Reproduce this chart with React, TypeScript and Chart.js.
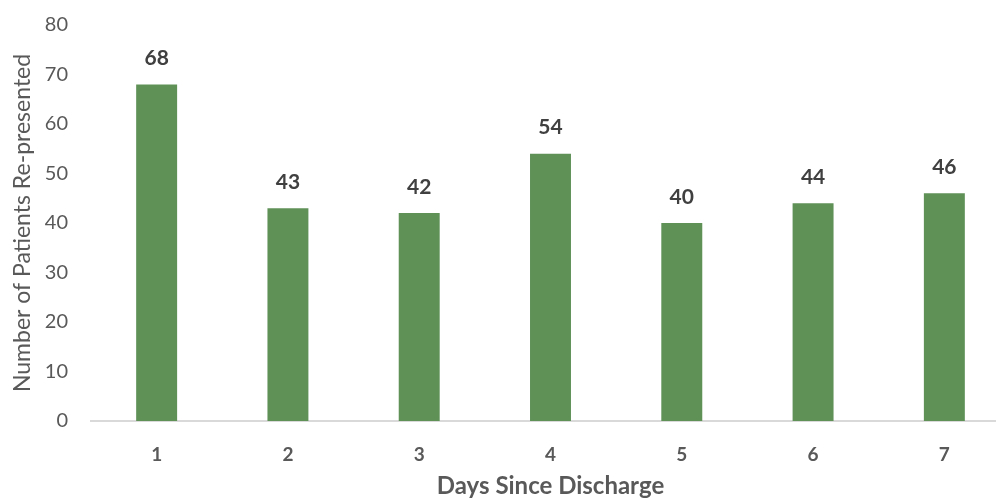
import React, { useEffect, useRef } from "react";
import { Chart, registerables } from "chart.js";

Chart.register(...registerables);

const categories = ["1", "2", "3", "4", "5", "6", "7"];
const patients = [68, 43, 42, 54, 40, 44, 46];
const yMin = 0;
const yMax = 80;
const yStep = 10;
const xTitle = "Days Since Discharge";
const yTitle = "Number of Patients Re-presented";

const FONT = "Lato, 'Open Sans', sans-serif";
const GREY = "#595959";

const labelPlugin = {
  id: "barLabels",
  afterDatasetsDraw(chart: any) {
    const ctx = chart.ctx;
    const meta = chart.getDatasetMeta(0);
    ctx.save();
    ctx.font = `bold 21px ${FONT}`;
    ctx.fillStyle = "#404040";
    ctx.textAlign = "center";
    ctx.textBaseline = "middle";
    meta.data.forEach((el: any, i: number) => {
      ctx.fillText(String(chart.data.datasets[0].data[i]), el.x, el.y - 26);
    });
    ctx.restore();
  },
};

export default function App() {
  const ref = useRef<HTMLCanvasElement | null>(null);
  useEffect(() => {
    if (!ref.current) return;
    const chart = new Chart(ref.current, {
      type: "bar",
      data: {
        labels: categories,
        datasets: [
          {
            data: patients,
            backgroundColor: "#5f9157",
            borderWidth: 0,
            barPercentage: 0.312,
            categoryPercentage: 1,
          },
        ],
      },
      options: {
        responsive: false,
        animation: false,
        layout: { padding: { top: 25, left: 0, right: 0, bottom: 0 } },
        plugins: { legend: { display: false }, tooltip: { enabled: false } },
        scales: {
          x: {
            grid: { display: false, drawTicks: false },
            border: { display: true, color: "#d9d9d9", width: 2 },
            ticks: {
              color: GREY,
              font: { family: FONT, size: 19, weight: "bold" },
              padding: 22,
            },
            title: {
              display: true,
              text: xTitle,
              color: GREY,
              font: { family: FONT, size: 24, weight: "bold" },
              padding: { top: 0, bottom: 2 },
            },
            afterFit(scale: any) {
              scale.height = 82;
            },
          },
          y: {
            min: yMin,
            max: yMax,
            grid: { display: false, drawTicks: false },
            border: { display: false },
            ticks: {
              stepSize: yStep,
              color: GREY,
              font: { family: FONT, size: 20 },
              padding: 23,
            },
            title: {
              display: true,
              text: yTitle,
              color: GREY,
              font: { family: FONT, size: 23 },
              padding: { top: 9, bottom: 0 },
            },
            afterFit(scale: any) {
              scale.width = 91;
              scale.paddingTop = 0;
              scale.paddingBottom = 0;
            },
          },
        },
      },
      plugins: [labelPlugin],
    });
    return () => chart.destroy();
  }, []);
  return (
    <div
      style={{
        position: "fixed",
        left: 0,
        top: 0,
        width: 996,
        height: 503,
        overflow: "hidden",
        background: "#fff",
      }}
    >
      <canvas ref={ref} width={1010} height={503} style={{ display: "block" }} />
    </div>
  );
}
